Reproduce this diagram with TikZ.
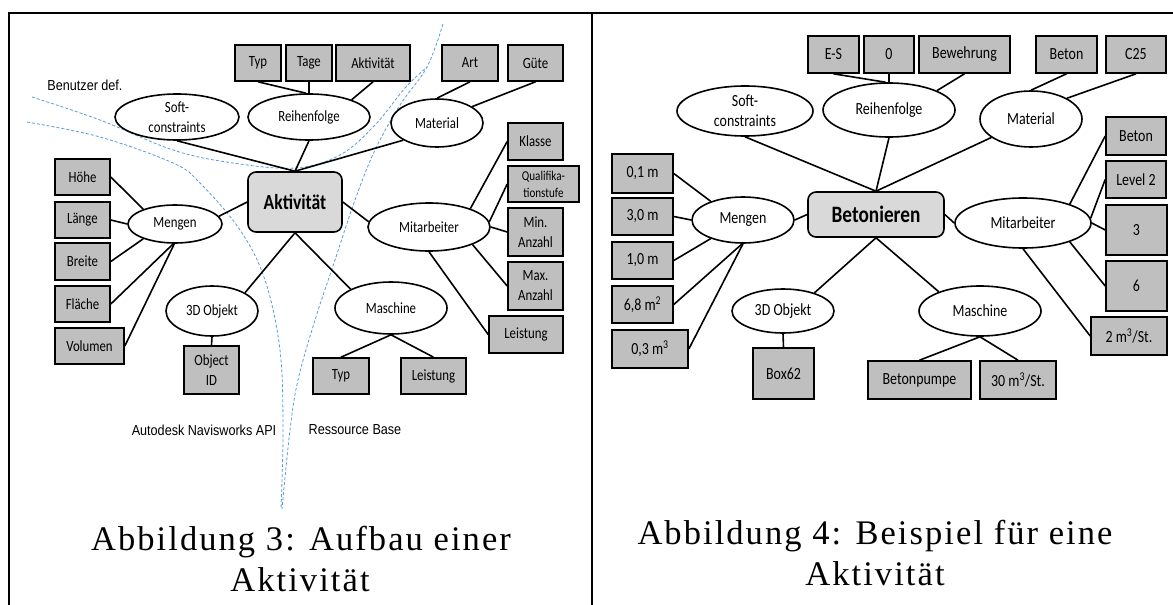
\documentclass[tikz,border=0pt]{standalone}
\usepackage{fontspec}
\setmainfont{Carlito}[FakeStretch=0.82]
\newfontfamily\capfont[LetterSpace=6]{Liberation Serif}
\newfontfamily\arialfont[FakeStretch=0.87]{Liberation Sans}
\usetikzlibrary{shapes.geometric}
\definecolor{boxgray}{HTML}{BFBFBF}
\definecolor{centgray}{HTML}{D9D9D9}
\definecolor{dashblue}{HTML}{5B9BD5}
\begin{document}
\begin{tikzpicture}[x=1pt,y=-1pt,
  gbox/.style={draw=black, fill=boxgray, line width=1.6pt, inner sep=0pt, align=center, font=\fontsize{15.6}{20}\selectfont},
  gboxR/.style={gbox, font=\fontsize{17}{20}\selectfont},
  ell/.style={ellipse, draw=black, fill=white, line width=1.6pt, inner sep=0pt, align=center, font=\fontsize{15.6}{20}\selectfont},
  ellR/.style={ell, font=\fontsize{17}{20}\selectfont},
  cbox/.style={draw=black, fill=centgray, line width=1.6pt, rounded corners=8pt, inner sep=0pt, font=\bfseries\fontsize{21.5}{24}\selectfont},
  conn/.style={line width=1.6pt},
  region/.style={draw=dashblue, dash pattern=on 3pt off 2pt, line width=0.8pt},
  lbl/.style={font=\arialfont\fontsize{14.5}{16}\selectfont, inner sep=0pt},
  figcaption/.style={font=\capfont\fontsize{34.5}{41}\selectfont, inner sep=0pt, anchor=base},
]
\useasboundingbox (0,0) rectangle (1173,605);
% frame
\draw[line width=2pt] (8,13) -- (1173,13);
\draw[line width=2pt] (9,13) -- (9,605);
\draw[line width=2pt] (592,13) -- (592,605);

% ---------- dashed region boundaries (left) ----------
\draw[region] plot[smooth, tension=0.6] coordinates {(32,97) (100,120) (173,150) (233,163) (295,168) (340,155) (375,125) (405,88) (427,67)};
\draw[region] plot[smooth, tension=0.6] coordinates {(443,24) (427,67) (400,105) (375,150) (355,200) (335,260) (315,320) (298,380) (290,430) (282,509)};
\draw[region] plot[smooth, tension=0.6] coordinates {(27,122) (100,137) (173,163) (200,183) (240,230) (265,280) (280,350) (283,430) (281,509)};

\node[lbl] (benutzer) at (85,85) {Benutzer def.};
\node[lbl] (navis) at (204,430) {Autodesk Navisworks API};
\node[lbl] (ressource) at (355,430) {Ressource Base};

% ---------- left panel nodes ----------
\node[cbox, minimum width=94, minimum height=60] (akt) at (295,202) {Aktivität};
\node[ell, minimum width=124, minimum height=46] (soft) at (177,117) {Soft-\\constraints};
\node[ell, minimum width=122, minimum height=46] (reih) at (309,117) {Reihenfolge};
\node[ell, minimum width=92, minimum height=48] (mat) at (437,123) {Material};
\node[ell, minimum width=94, minimum height=38] (mengen) at (175,224) {Mengen};
\node[ell, minimum width=92, minimum height=50] (obj) at (212,311) {3D Objekt};
\node[ell, minimum width=122, minimum height=48] (mitarb) at (429,227) {Mitarbeiter};
\node[ell, minimum width=112, minimum height=52] (masch) at (391,308) {Maschine};

\node[gbox, minimum width=46, minimum height=36] (typ) at (258,63) {Typ};
\node[gbox, minimum width=46, minimum height=36] (tage) at (309,63) {Tage};
\node[gbox, minimum width=74, minimum height=36] (aktiv) at (373,63) {Aktivität};
\node[gbox, minimum width=56, minimum height=36] (art) at (470,63) {Art};
\node[gbox, minimum width=55, minimum height=36] (guete) at (535.5,63) {Güte};
\node[gbox, minimum width=55, minimum height=37] (klasse) at (535.5,141.5) {Klasse};
\node[gbox, minimum width=71, minimum height=36, font=\fontsize{13.5}{17}\selectfont] (quali) at (543.5,184) {Qualifika-\\tionstufe};
\node[gbox, minimum width=55, minimum height=48] (minanz) at (535.5,232) {Min.\\Anzahl};
\node[gbox, minimum width=55, minimum height=48] (maxanz) at (535.5,286) {Max.\\Anzahl};
\node[gbox, minimum width=74, minimum height=37] (leistmi) at (526,334.5) {Leistung};
\node[gbox, minimum width=55, minimum height=36] (hoehe) at (82.5,177) {Höhe};
\node[gbox, minimum width=55, minimum height=36] (laenge) at (82.5,220) {Länge};
\node[gbox, minimum width=55, minimum height=37] (breite) at (82.5,261.5) {Breite};
\node[gbox, minimum width=55, minimum height=36] (flaeche) at (82.5,304) {Fläche};
\node[gbox, minimum width=69, minimum height=36] (volumen) at (89.5,346) {Volumen};
\node[gbox, minimum width=55, minimum height=48] (objid) at (211.5,370) {Object\\ID};
\node[gbox, minimum width=56, minimum height=36] (typma) at (341,376) {Typ};
\node[gbox, minimum width=65, minimum height=36] (leistma) at (433.5,376) {Leistung};

% left connectors
\draw[conn] (soft.south) -- (akt.north);
\draw[conn] (reih.south) -- (akt.north);
\draw[conn] (mat.207) -- (akt.north);
\draw[conn] (mengen.10) -- (akt.west);
\draw[conn] (akt.east) -- (mitarb.175);
\draw[conn] (akt.south) -- (obj.29);
\draw[conn] (akt.south) -- (masch.155);
\draw[conn] (typ.south) -- (reih.97);
\draw[conn] (tage.south) -- (reih.north);
\draw[conn] (aktiv.south) -- (reih.22);
\draw[conn] (art.south) -- (mat.north);
\draw[conn] (guete.south) -- (mat.25);
\draw[conn] (mitarb.24) -- (klasse.west);
\draw[conn] (mitarb.5) -- (quali.west);
\draw[conn] (mitarb.east) -- (minanz.west);
\draw[conn] (mitarb.338) -- (maxanz.west);
\draw[conn] (mitarb.south) -- (leistmi.west);
\draw[conn] (masch.south) -- (typma.north);
\draw[conn] (masch.south) -- (leistma.north);
\draw[conn] (obj.south) -- (objid.north);
\draw[conn] (hoehe.east) -- (mengen.155);
\draw[conn] (laenge.east) -- (mengen.west);
\draw[conn] (breite.east) -- (mengen.205);
\draw[conn] (flaeche.east) -- (mengen.265);
\draw[conn] (volumen.east) -- (mengen.268);

% ---------- right panel nodes ----------
\node[cbox, minimum width=136, minimum height=45, font=\bfseries\fontsize{23.5}{26}\selectfont] (beton) at (876,214.5) {Betonieren};
\node[ellR, minimum width=136, minimum height=50] (softR) at (745,111) {Soft-\\constraints};
\node[ellR, minimum width=132, minimum height=54] (reihR) at (889,110) {Reihenfolge};
\node[ellR, minimum width=102, minimum height=56] (matR) at (1031,119) {Material};
\node[ellR, minimum width=102, minimum height=46] (mengenR) at (743,220) {Mengen};
\node[ellR, minimum width=102, minimum height=44] (objR) at (783,311) {3D Objekt};
\node[ellR, minimum width=136, minimum height=50] (mitarbR) at (1023,223) {Mitarbeiter};
\node[ellR, minimum width=122, minimum height=50] (maschR) at (980,311) {Maschine};

\node[gboxR, minimum width=51, minimum height=37] (es) at (833.5,54.5) {E-S};
\node[gboxR, minimum width=50, minimum height=37] (null) at (889,54.5) {0};
\node[gboxR, minimum width=91, minimum height=37] (bew) at (964.5,54.5) {Bewehrung};
\node[gboxR, minimum width=61, minimum height=37] (betonm) at (1066.5,54.5) {Beton};
\node[gboxR, minimum width=60, minimum height=37] (c25) at (1136,54.5) {C25};
\node[gboxR, minimum width=60, minimum height=38] (betonmi) at (1136,136) {Beton};
\node[gboxR, minimum width=60, minimum height=37] (level) at (1136,179.5) {Level 2};
\node[gboxR, minimum width=61, minimum height=50] (drei) at (1136.5,230) {3};
\node[gboxR, minimum width=61, minimum height=50] (sechs) at (1136.5,286) {6};
\node[gboxR, minimum width=76, minimum height=38] (zwei) at (1129,336) {2 m\textsuperscript{3}/St.};
\node[gboxR, minimum width=61, minimum height=39] (m01) at (642.5,173.5) {0,1 m};
\node[gboxR, minimum width=61, minimum height=37] (m30) at (642.5,216.5) {3,0 m};
\node[gboxR, minimum width=61, minimum height=37] (m10) at (642.5,260.5) {1,0 m};
\node[gboxR, minimum width=61, minimum height=37] (m68) at (642.5,304.5) {6,8 m\textsuperscript{2}};
\node[gboxR, minimum width=76, minimum height=38] (m03) at (650,349) {0,3 m\textsuperscript{3}};
\node[gboxR, minimum width=61, minimum height=51] (box62) at (783.5,373.5) {Box62};
\node[gboxR, minimum width=103, minimum height=38] (pumpe) at (919.5,380) {Betonpumpe};
\node[gboxR, minimum width=76, minimum height=38] (dreissig) at (1018,380) {30 m\textsuperscript{3}/St.};

% right connectors
\draw[conn] (softR.south) -- (beton.north);
\draw[conn] (reihR.south) -- (beton.north);
\draw[conn] (matR.205) -- (beton.north);
\draw[conn] (mengenR.east) -- (beton.west);
\draw[conn] (beton.east) -- (mitarbR.west);
\draw[conn] (beton.south) -- (objR.30);
\draw[conn] (beton.south) -- (maschR.155);
\draw[conn] (es.south) -- (reihR.97);
\draw[conn] (null.south) -- (reihR.north);
\draw[conn] (bew.south) -- (reihR.22);
\draw[conn] (betonm.south) -- (matR.north);
\draw[conn] (c25.south) -- (matR.30);
\draw[conn] (mitarbR.22) -- (betonmi.west);
\draw[conn] (mitarbR.4) -- (level.west);
\draw[conn] (mitarbR.east) -- (drei.west);
\draw[conn] (mitarbR.338) -- (sechs.west);
\draw[conn] (mitarbR.south) -- (zwei.west);
\draw[conn] (maschR.south) -- (pumpe.north);
\draw[conn] (maschR.south) -- (dreissig.north);
\draw[conn] (objR.south) -- (box62.north);
\draw[conn] (m01.east) -- (mengenR.150);
\draw[conn] (m30.east) -- (mengenR.west);
\draw[conn] (m10.east) -- (mengenR.210);
\draw[conn] (m68.east) -- (mengenR.268);
\draw[conn] (m03.east) -- (mengenR.270);

% captions
\node[figcaption] (cap3a) at (301,550) {Abbildung 3: Aufbau einer};
\node[figcaption] (cap3b) at (300,591) {Aktivität};
\node[figcaption] (cap4a) at (875,544) {Abbildung 4: Beispiel für eine};
\node[figcaption] (cap4b) at (875,585) {Aktivität};
\end{tikzpicture}
\end{document}
